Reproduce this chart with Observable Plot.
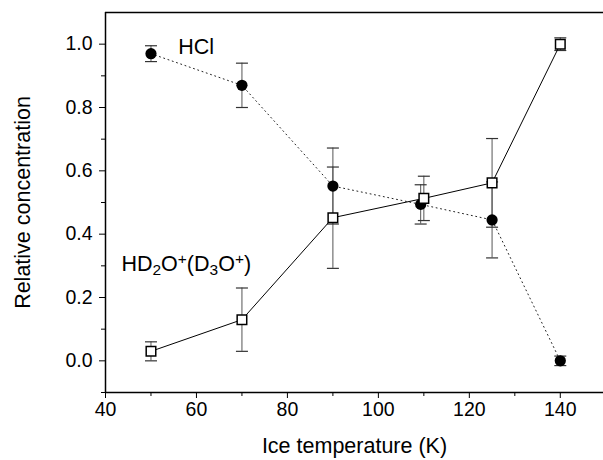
<!DOCTYPE html>
<html>
<head>
<meta charset="utf-8">
<script src="https://cdn.jsdelivr.net/npm/d3@7"></script>
<script src="https://cdn.jsdelivr.net/npm/@observablehq/plot@0.6"></script>
<style>
  html, body { margin: 0; padding: 0; background: #fff; }
  #chart { width: 603px; height: 460px; }
</style>
</head>
<body>
<div id="chart"></div>
<script>
// ---- data ----
const hclTemps = [50, 70, 90, 109.3, 125, 140];
const hclValues = [0.97, 0.87, 0.552, 0.494, 0.445, 0.00];
const hclErrors = [0.025, 0.07, 0.12, 0.062, 0.12, 0.015];

const hdoTemps = [50, 70, 90, 110, 125, 140];
const hdoValues = [0.03, 0.13, 0.452, 0.513, 0.562, 1.00];
const hdoErrors = [0.03, 0.10, 0.16, 0.07, 0.14, 0.02];

const xMajorTicks = [40, 60, 80, 100, 120, 140];
const xMinorTicks = [50, 70, 90, 110, 130, 150];
const yMajorTicks = [0.0, 0.2, 0.4, 0.6, 0.8, 1.0];
const yMinorTicks = [-0.1, 0.1, 0.3, 0.5, 0.7, 0.9];
const xDomain = [40, 149.5];
const yDomain = [-0.1, 1.1];

const xTitle = "Ice temperature (K)";
const yTitle = "Relative concentration";
const hclLabel = {text: "HCl", x: 56, y: 0.99};
const hdoLabel = {text: "HD2O+(D3O+)", x: 43.5, y: 0.305};

// ---- tables ----
const hcl = hclTemps.map((t, i) => ({t, v: hclValues[i], lo: hclValues[i] - hclErrors[i], hi: hclValues[i] + hclErrors[i]}));
const hdo = hdoTemps.map((t, i) => ({t, v: hdoValues[i], lo: hdoValues[i] - hdoErrors[i], hi: hdoValues[i] + hdoErrors[i]}));
const caps = [...hcl, ...hdo].flatMap(d => [{t: d.t, v: d.lo}, {t: d.t, v: d.hi}]);

const capSymbol = { draw(ctx) { ctx.moveTo(-6, 0); ctx.lineTo(6, 0); } };

const font = "'Liberation Sans', Arial, Helvetica, sans-serif";

const plot = Plot.plot({
  width: 603,
  height: 460,
  marginLeft: 105,
  marginRight: 0,
  marginTop: 12,
  marginBottom: 68,
  style: { fontFamily: font, background: "#fff", color: "#000" },
  x: { domain: xDomain },
  y: { domain: yDomain },
  marks: [
    // frame
    Plot.ruleY([yDomain[0], yDomain[1]], { stroke: "#000", strokeWidth: 1.5 }),
    Plot.ruleX([xDomain[0]], { stroke: "#000", strokeWidth: 1.5 }),
    // axes
    Plot.axisX({ ticks: xMajorTicks, tickSize: 6, tickPadding: 4, fontSize: 19.5, label: null, tickFormat: d => String(d) }),
    Plot.axisX({ ticks: xMinorTicks.filter(d => d < xDomain[1]), tickSize: 4, tickFormat: () => "", label: null }),
    Plot.axisY({ ticks: yMajorTicks, tickSize: 6, tickPadding: 7, fontSize: 19.5, label: null, tickFormat: d => d.toFixed(1) }),
    Plot.axisY({ ticks: yMinorTicks, tickSize: 4, tickFormat: () => "", label: null }),
    // error bars
    Plot.ruleX(hcl, { x: "t", y1: "lo", y2: "hi", stroke: "#555", strokeWidth: 1 }),
    Plot.ruleX(hdo, { x: "t", y1: "lo", y2: "hi", stroke: "#555", strokeWidth: 1 }),
    Plot.dot(caps, { x: "t", y: "v", symbol: capSymbol, r: 6, stroke: "#333", strokeWidth: 1.2, fill: "none" }),
    // lines
    Plot.line(hcl, { x: "t", y: "v", stroke: "#222", strokeWidth: 1, strokeDasharray: "1,3.5" }),
    Plot.line(hdo, { x: "t", y: "v", stroke: "#000", strokeWidth: 1 }),
    // markers
    Plot.dot(hcl, { x: "t", y: "v", r: 5.6, fill: "#000", stroke: "none" }),
    Plot.dot(hdo, { x: "t", y: "v", symbol: "square", r: 5.4, fill: "#fff", stroke: "#000", strokeWidth: 1.5 }),
    // annotations
    Plot.text([hclLabel], { x: "x", y: "y", text: "text", textAnchor: "start", lineAnchor: "middle", fontSize: 21.5 }),
    Plot.text([hdoLabel], { x: "x", y: "y", text: "text", textAnchor: "start", lineAnchor: "middle", fontSize: 21.5 }),
    // axis titles
    Plot.text([yTitle], { frameAnchor: "left", textAnchor: "middle", rotate: -90, dx: -82, fontSize: 21.5, lineAnchor: "middle" }),
    Plot.text([xTitle], { frameAnchor: "bottom", textAnchor: "middle", dy: 54, fontSize: 21.5, lineAnchor: "middle" })
  ]
});

document.getElementById("chart").appendChild(plot);

// Render sub/superscripts in the HD2O+(D3O+) label as real text with tspans
const parts = [["HD", 0], ["2", 1], ["O", 0], ["+", -1], ["(D", 0], ["3", 1], ["O", 0], ["+", -1], [")", 0]];
d3.select(plot).selectAll("text").filter(function () { return this.textContent === hdoLabel.text; }).each(function () {
  const el = d3.select(this);
  el.text(null);
  parts.forEach(([s, k]) => {
    el.append("tspan")
      .attr("font-size", k ? "0.72em" : null)
      .attr("baseline-shift", k === 1 ? "-25%" : k === -1 ? "45%" : null)
      .text(s);
  });
});
</script>
</body>
</html>
